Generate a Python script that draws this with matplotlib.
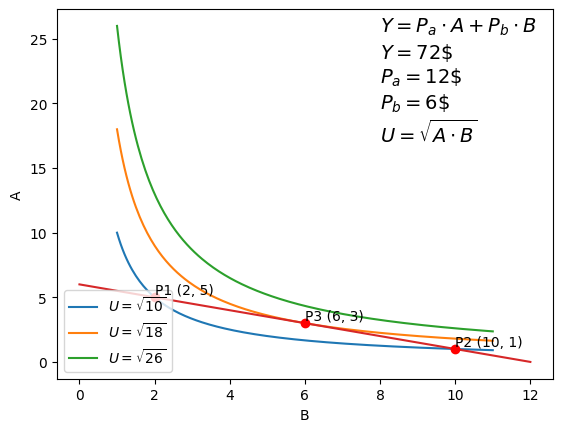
import numpy as np
import matplotlib
matplotlib.use('Agg')
from matplotlib import pyplot as plt

# budget / utility setup
Y = 72
Pa = 12
Pb = 6
u_levels = [10, 18, 26]          # U^2 = A*B for each indifference curve
u_labels = ['$U = \\sqrt{10}$', '$U = \\sqrt{18}$', '$U = \\sqrt{26}$']
b_range = (1, 11)

points_b = [2, 10, 6]
points_a = [5, 1, 3]
point_names = ['P1', 'P2', 'P3']

B = np.linspace(b_range[0], b_range[1], 200)

fig = plt.figure(figsize=(6.4, 4.8), dpi=100)
for u, lab in zip(u_levels, u_labels):
    plt.plot(B, u / B, label=lab)

# budget line
Bb = np.linspace(0, Y / Pb, 100)
plt.plot(Bb, (Y - Pb * Bb) / Pa, color='tab:red')

plt.plot(points_b, points_a, 'ro')
for name, b, a in zip(point_names, points_b, points_a):
    plt.text(b, a + 0.25, f'{name} ({b}, {a})', zorder=6)

plt.text(8, 17, '$Y = P_a \\cdot A + P_b \\cdot B$\n$Y = 72\\$$\n$P_a = 12\\$$\n'
         '$P_b = 6\\$$\n$U = \\sqrt{A \\cdot B}$', fontsize=14)

plt.xlabel('B')
plt.ylabel('A')
plt.legend(loc='lower left')
plt.savefig('out.png', bbox_inches='tight')
